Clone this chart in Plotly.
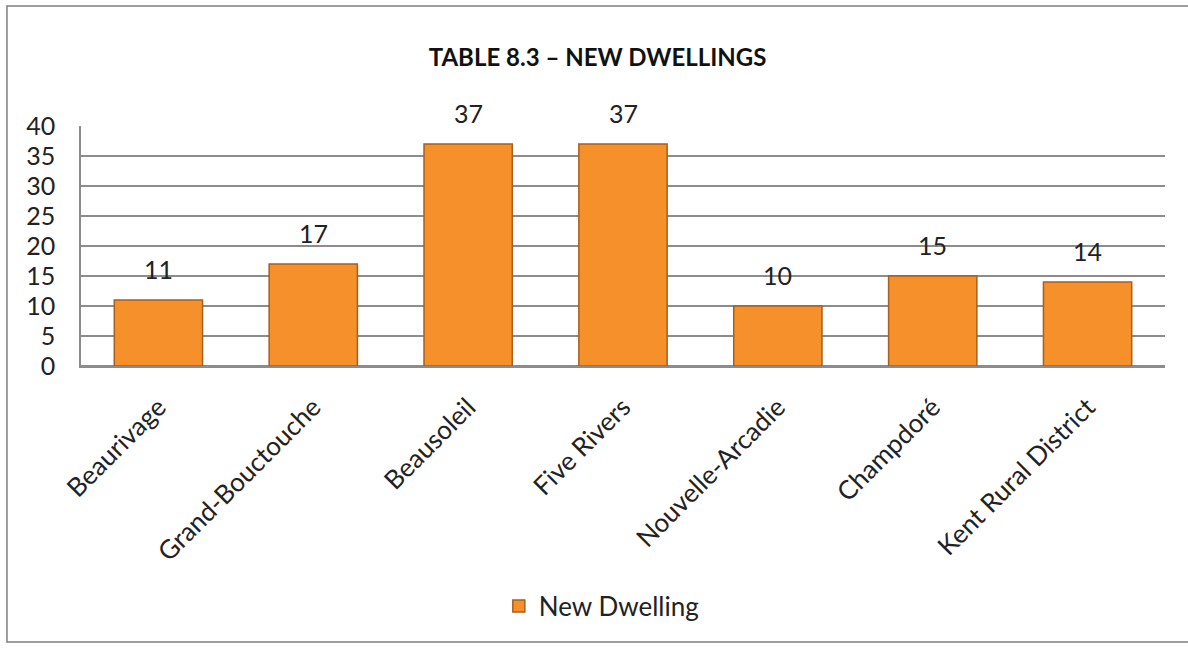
import plotly.graph_objects as go

# New dwellings by community
communities = ["Beaurivage", "Grand-Bouctouche", "Beausoleil", "Five Rivers",
               "Nouvelle-Arcadie", "Champdoré", "Kent Rural District"]
new_dwellings = [11, 17, 37, 37, 10, 15, 14]
y_ticks = [0, 5, 10, 15, 20, 25, 30, 35, 40]

FONT = "Lato"
TEXT = "#222222"
GRID = "#8c8c8c"

fig = go.Figure()
fig.add_trace(go.Bar(
    x=communities,
    y=new_dwellings,
    name="New Dwelling",
    marker=dict(color="#F5902B", line=dict(color="#A85E1C", width=1.5)),
    showlegend=True,
))

# Value labels above each bar
for name, v in zip(communities, new_dwellings):
    fig.add_annotation(x=name, y=v, text=str(v), showarrow=False,
                       yanchor="bottom", yshift=14,
                       font=dict(family=FONT, size=25, color=TEXT))

# Outer chart frame
fig.add_shape(type="rect", xref="paper", yref="paper",
              x0=-0.0683, x1=1.04, y0=-1.15, y1=1.5,
              line=dict(color="#7f7f7f", width=1.5), fillcolor="rgba(0,0,0,0)",
              layer="below")

fig.update_layout(
    width=1188, height=651,
    margin=dict(l=81, r=23, t=126, b=285),
    paper_bgcolor="white", plot_bgcolor="white",
    title=dict(text="<b>TABLE 8.3 – NEW DWELLINGS</b>", x=0.503, xanchor="center",
               y=1 - 58 / 651, yanchor="middle",
               font=dict(family=FONT, size=24, color="#111111")),
    bargap=0.43,
    font=dict(family=FONT, color=TEXT),
    xaxis=dict(tickangle=-45, tickfont=dict(family=FONT, size=26, color=TEXT),
               showline=True, linecolor=GRID, linewidth=1.5, ticks="",
               ticklabelstandoff=14),
    yaxis=dict(range=[0, 40], tickvals=y_ticks, ticktext=[str(t) for t in y_ticks],
               tickfont=dict(family=FONT, size=25, color=TEXT),
               showgrid=True, gridcolor=GRID, gridwidth=1.5,
               showline=True, linecolor=GRID, linewidth=1.5,
               zeroline=True, zerolinecolor=GRID, zerolinewidth=1.5,
               ticks="", ticklabelstandoff=19),
    legend=dict(orientation="h", x=0.48, xanchor="center", y=-1.0, yanchor="middle",
                font=dict(family=FONT, size=26, color=TEXT), itemwidth=30),
)

fig.write_html("out.html")
